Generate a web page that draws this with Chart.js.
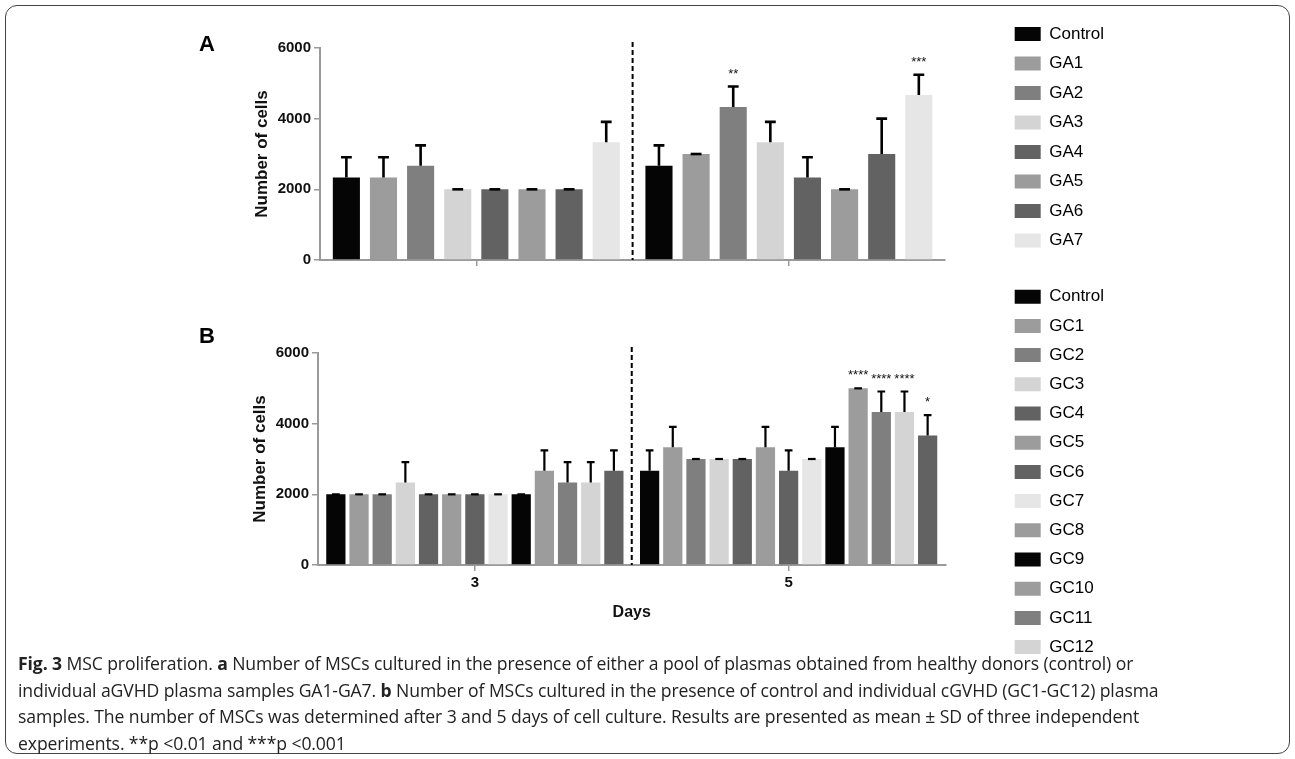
<!DOCTYPE html>
<html lang="en">
<head>
<meta charset="UTF-8">
<title>MSC proliferation</title>
<script src="https://cdn.jsdelivr.net/npm/chart.js"></script>
<style>
  body { margin: 0; background: #fff; }
  #fig { position: relative; width: 1295px; height: 759px; overflow: hidden; }
  #frame { position: absolute; left: 5px; top: 5px; width: 1285px; height: 749px; border: 1.5px solid #444; border-radius: 12px; box-sizing: border-box; }
  .panel { position: absolute; }
  #panelA { left: 180px; top: 13px; width: 934px; height: 272px; }
  #panelB { left: 178px; top: 276px; width: 936px; height: 395px; }
  #caption { position: absolute; left: 18px; top: 650px; width: 1265px; margin: 0; font-family: 'Open Sans', sans-serif; font-size: 17.6px; line-height: 26.5px; color: #222; white-space: nowrap; letter-spacing: -0.1px; }
</style>
</head>
<body>
<div id="fig">
  <div id="frame"></div>
  <div class="panel" id="panelA"><canvas id="chartA"></canvas></div>
  <div class="panel" id="panelB"><canvas id="chartB"></canvas></div>
  <p id="caption"><b>Fig. 3</b> MSC proliferation. <b>a</b> Number of MSCs cultured in the presence of either a pool of plasmas obtained from healthy donors (control) or<br>individual aGVHD plasma samples GA1-GA7. <b>b</b> Number of MSCs cultured in the presence of control and individual cGVHD (GC1-GC12) plasma<br>samples. The number of MSCs was determined after 3 and 5 days of cell culture. Results are presented as mean ± SD of three independent<br>experiments. **p &lt;0.01 and ***p &lt;0.001</p>
</div>

<script>
  // days on the x axis
  const days = ['3', '5'];

  // panel A: aGVHD plasmas
  const groupsA = ['Control', 'GA1', 'GA2', 'GA3', 'GA4', 'GA5', 'GA6', 'GA7'];
  const meanA3 = [2333, 2333, 2667, 2000, 2000, 2000, 2000, 3333];
  const sdA3   = [577, 577, 577, 0, 0, 0, 0, 577];
  const meanA5 = [2667, 3000, 4333, 3333, 2333, 2000, 3000, 4667];
  const sdA5   = [577, 0, 577, 577, 577, 0, 1000, 577];
  const starsA5 = ['', '', '**', '', '', '', '', '***'];

  // panel B: cGVHD plasmas
  const groupsB = ['Control', 'GC1', 'GC2', 'GC3', 'GC4', 'GC5', 'GC6', 'GC7', 'GC8', 'GC9', 'GC10', 'GC11', 'GC12'];
  const meanB3 = [2000, 2000, 2000, 2333, 2000, 2000, 2000, 2000, 2000, 2667, 2333, 2333, 2667];
  const sdB3   = [0, 0, 0, 577, 0, 0, 0, 0, 0, 577, 577, 577, 577];
  const meanB5 = [2667, 3333, 3000, 3000, 3000, 3333, 2667, 3000, 3333, 5000, 4333, 4333, 3667];
  const sdB5   = [577, 577, 0, 0, 0, 577, 577, 0, 577, 0, 577, 577, 577];
  const starsB5 = ['', '', '', '', '', '', '', '', '', '****', '****', '****', '*'];

  const yTicks = [0, 2000, 4000, 6000];

  // greys
  const K = '#050505', G1 = '#9c9c9c', G2 = '#7f7f7f', G3 = '#d4d4d4', G4 = '#626262', G5 = '#e6e6e6';
  const barColorsA = [K, G1, G2, G3, G4, G1, G4, G5];
  const barColorsB = [K, G1, G2, G3, G4, G1, G4, G5, K, G1, G2, G3, G4];
  const legendColorsB = [K, G1, G2, G3, G4, G1, G4, G5, G1, K, G1, G2, G3];

  Chart.defaults.font.family = "'Liberation Sans', Arial, sans-serif";
  Chart.defaults.color = '#111';

  // error bars, significance stars, dashed day separator and panel letter
  const marks = {
    id: 'marks',
    afterDatasetsDraw(chart, args, opts) {
      const ctx = chart.ctx;
      const y = chart.scales.y, x = chart.scales.x;
      const area = chart.chartArea;
      ctx.save();
      ctx.strokeStyle = '#000';
      ctx.lineWidth = opts.lw;
      chart.data.datasets.forEach((ds, di) => {
        chart.getDatasetMeta(di).data.forEach((bar, i) => {
          const sd = ds.sd[i];
          const top = y.getPixelForValue(ds.data[i] + sd);
          const half = bar.width * 0.2;
          ctx.beginPath();
          if (sd > 0) {
            ctx.moveTo(bar.x, bar.y);
            ctx.lineTo(bar.x, top);
          }
          ctx.moveTo(bar.x - half, top);
          ctx.lineTo(bar.x + half, top);
          ctx.stroke();
          if (ds.stars[i]) {
            ctx.fillStyle = '#111';
            ctx.font = "13px 'Liberation Sans', Arial";
            ctx.textAlign = 'center';
            ctx.textBaseline = 'bottom';
            ctx.fillText(ds.stars[i], bar.x, top - 6);
          }
        });
      });
      // dashed line between day 3 and day 5
      const xs = (x.getPixelForValue(0) + x.getPixelForValue(1)) / 2;
      ctx.setLineDash([5, 3]);
      ctx.lineWidth = 2;
      ctx.beginPath();
      ctx.moveTo(xs, area.top - 6);
      ctx.lineTo(xs, area.bottom);
      ctx.stroke();
      ctx.restore();
    },
    afterDraw(chart, args, opts) {
      const ctx = chart.ctx;
      ctx.save();
      ctx.fillStyle = '#000';
      ctx.font = "bold 22px 'Liberation Sans', Arial";
      ctx.textAlign = 'center';
      ctx.textBaseline = 'middle';
      ctx.fillText(opts.letter, opts.lx, opts.ly);
      ctx.restore();
    }
  };

  function makePanel(id, p) {
    const datasets = p.names.map((name, i) => ({
      label: name,
      data: [p.m3[i], p.m5[i]],
      sd: [p.s3[i], p.s5[i]],
      stars: ['', p.st5[i]],
      backgroundColor: p.colors[i],
      borderWidth: 0,
      categoryPercentage: p.catPct,
      barPercentage: p.barPct
    }));

    return new Chart(document.getElementById(id), {
      type: 'bar',
      data: { labels: days, datasets: datasets },
      plugins: [marks],
      options: {
        responsive: true,
        maintainAspectRatio: false,
        animation: false,
        layout: { padding: 0 },
        plugins: {
          tooltip: { enabled: false },
          title: {
            display: true, text: '', fullSize: false,
            padding: 0, font: { size: p.topSpace, lineHeight: 1 }
          },
          legend: {
            position: 'right',
            align: 'start',
            labels: {
              boxWidth: 26, boxHeight: 14, padding: p.legPad,
              color: '#222',
              font: { size: 17 },
              generateLabels: (chart) => p.names.map((name, i) => ({
                text: name,
                fillStyle: p.legendColors[i],
                strokeStyle: p.legendColors[i],
                lineWidth: 0,
                datasetIndex: i
              }))
            }
          },
          marks: { letter: p.letter, lx: p.lx, ly: p.ly, lw: p.lw }
        },
        scales: {
          x: {
            grid: { display: true, drawOnChartArea: false, offset: false, tickLength: 6, color: '#9a9a9a', lineWidth: 1.5 },
            border: { color: '#9a9a9a', width: 2 },
            ticks: { display: p.showX, padding: 3, font: { size: 15, weight: 'bold' } },
            title: {
              display: p.showX, text: 'Days',
              font: { size: 16, weight: 'bold' },
              padding: { top: 0, bottom: 49 }
            },
            afterFit: (s) => { s.height = p.xHeight; }
          },
          y: {
            min: 0, max: 6000,
            afterBuildTicks: (s) => { s.ticks = yTicks.map(v => ({ value: v })); },
            grid: { drawOnChartArea: false, tickLength: 6, color: '#9a9a9a', lineWidth: 1.5 },
            border: { color: '#9a9a9a', width: 2 },
            ticks: { padding: 3, font: { size: 15, weight: 'bold' }, callback: (v) => String(v) },
            title: {
              display: true, text: 'Number of cells',
              font: { size: 17, weight: 'bold' },
              padding: { top: 72, bottom: 0 }
            },
            afterFit: (s) => { s.width = 140; }
          },
          gap: {
            position: 'right',
            display: true,
            grid: { display: false, drawTicks: false },
            border: { display: false },
            ticks: { display: false },
            afterFit: (s) => { s.width = 57; }
          }
        }
      }
    });
  }

  makePanel('chartA', {
    names: groupsA, colors: barColorsA, legendColors: barColorsA,
    m3: meanA3, s3: sdA3, m5: meanA5, s5: sdA5, st5: starsA5,
    catPct: 0.95, barPct: 0.73, topSpace: 35, xHeight: 25, legPad: 12.5,
    showX: false, letter: 'A', lx: 27, ly: 32, lw: 2.6
  });

  makePanel('chartB', {
    names: groupsB, colors: barColorsB, legendColors: legendColorsB,
    m3: meanB3, s3: sdB3, m5: meanB5, s5: sdB5, st5: starsB5,
    catPct: 0.96, barPct: 0.83, topSpace: 77, xHeight: 106, legPad: 12.2,
    showX: true, letter: 'B', lx: 29, ly: 61, lw: 2.2
  });
</script>
</body>
</html>
